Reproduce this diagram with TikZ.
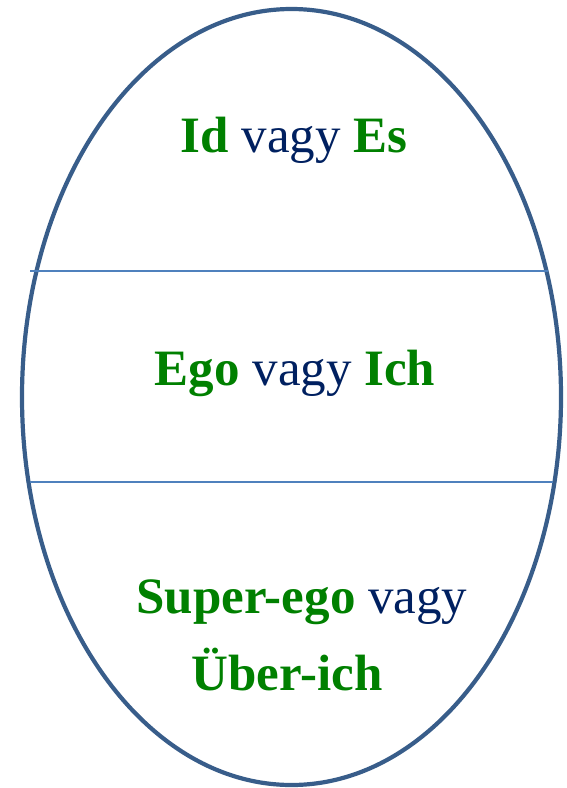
\documentclass[tikz,border=0pt]{standalone}
\usepackage{fontspec}
\setmainfont{Liberation Serif}
\usepackage{xcolor}
\definecolor{eggblue}{RGB}{56,93,138}
\definecolor{lineblue}{RGB}{79,129,189}
\definecolor{termgreen}{RGB}{0,128,0}
\definecolor{vagynavy}{RGB}{0,32,96}

\begin{document}
\begin{tikzpicture}[
    x=1pt, y=-1pt,
    label/.style={
        inner sep=0pt,
        anchor=base,
        font=\fontsize{51}{60}\selectfont,
        text=vagynavy
    }
]

\useasboundingbox (0,0) rectangle (567,788);

\draw[eggblue, line width=4.2pt] (291.5,397) ellipse [x radius=269.5pt, y radius=388pt];

\draw[lineblue, line width=1.5pt] (30,271) -- (548,271);
\draw[lineblue, line width=1.5pt] (30,482) -- (553,482);

\node[label] (idnode) at (294,152)
{{\bfseries\color{termgreen}Id} vagy {\bfseries\color{termgreen}Es}};

\node[label] (egonode) at (295,385)
{{\bfseries\color{termgreen}Ego} vagy {\bfseries\color{termgreen}Ich}};

\node[label] (superegonode) at (302,613)
{{\bfseries\color{termgreen}Super-ego} vagy};

\node[label, text=termgreen] (uberichnode) at (287,690)
{\bfseries Über-ich};

\end{tikzpicture}
\end{document}
